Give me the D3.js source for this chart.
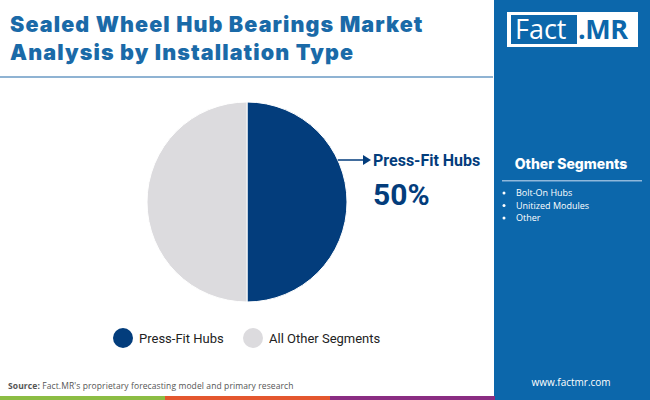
<!DOCTYPE html>
<html lang="en">
<head>
<meta charset="utf-8">
<title>Sealed Wheel Hub Bearings Market</title>
<script src="https://cdn.jsdelivr.net/npm/d3@7"></script>
<style>
  body { margin: 0; background: #fff; }
  svg { display: block; font-family: "Open Sans", "Noto Sans", sans-serif; }
</style>
</head>
<body>
<script>
// data
var segments = ["Press-Fit Hubs", "All Other Segments"];
var shares = [50, 50];
var segColors = ["#033d7c", "#dcdbde"];
var otherSegments = ["Bolt-On Hubs", "Unitized Modules", "Other"];
var titleLines = ["Sealed Wheel Hub Bearings Market", "Analysis by Installation Type"];
var stripColors = ["#8cbd44", "#e4572e", "#8a2d82"];

var W = 650, H = 400;
var svg = d3.select("body").append("svg").attr("width", W).attr("height", H);

// background
svg.append("rect").attr("width", W).attr("height", H).attr("fill", "#ffffff");

// title
svg.append("g").selectAll("text").data(titleLines).enter().append("text")
  .attr("x", 10)
  .attr("y", function(d, i){ return 32 + i * 28; })
  .attr("font-family", "Inter, sans-serif")
  .attr("font-size", 21.5)
  .attr("font-weight", 900)
  .attr("fill", "#1a6aa8")
  .attr("letter-spacing", "1.1")
  .text(function(d){ return d; });

// separator under title
svg.append("rect").attr("x", 0).attr("y", 76).attr("width", 493).attr("height", 2).attr("fill", "#8fb3d3");

// right panel
svg.append("rect").attr("x", 494).attr("y", 0).attr("width", W - 494).attr("height", H).attr("fill", "#0c67ab");

// logo
var logo = svg.append("g");
logo.append("rect").attr("x", 507).attr("y", 12).attr("width", 131).attr("height", 35).attr("fill", "#ffffff");
logo.append("rect").attr("x", 511).attr("y", 15).attr("width", 66).attr("height", 29).attr("fill", "#0c67ab");
logo.append("text").attr("x", 515).attr("y", 39).attr("font-family", "'Open Sans', sans-serif")
  .attr("font-size", 27).attr("fill", "#ffffff").text("Fact");
logo.append("text").attr("x", 578).attr("y", 39).attr("font-family", "'Open Sans', sans-serif")
  .attr("font-size", 27).attr("font-weight", 700).attr("letter-spacing", "-0.5")
  .attr("fill", "#0c67ab").text(".MR");

// other segments panel
svg.append("text").attr("x", 571).attr("y", 169).attr("text-anchor", "middle")
  .attr("font-family", "Inter, sans-serif")
  .attr("font-size", 14).attr("font-weight", 800).attr("fill", "#ffffff").text("Other Segments");
svg.append("rect").attr("x", 502).attr("y", 180).attr("width", 140).attr("height", 1.5).attr("fill", "#8fb8dc");
var list = svg.append("g").selectAll("g").data(otherSegments).enter().append("g")
  .attr("transform", function(d, i){ return "translate(0," + (196 + i * 12.5) + ")"; });
list.append("circle").attr("cx", 504).attr("cy", -3).attr("r", 1.5).attr("fill", "#ffffff");
list.append("text").attr("x", 516).attr("y", 0).attr("font-size", 9).attr("fill", "#ffffff")
  .text(function(d){ return d; });

// website
svg.append("text").attr("x", 571).attr("y", 386).attr("text-anchor", "middle")
  .attr("font-size", 10).attr("fill", "#ffffff").text("www.factmr.com");

// pie
var cx = 247, cy = 202, R = 100;
var pie = d3.pie().sort(null).value(function(d){ return d; });
var arc = d3.arc().innerRadius(0).outerRadius(R);
var slices = svg.append("g").attr("transform", "translate(" + cx + "," + cy + ")");
slices.selectAll("path").data(pie(shares)).enter().append("path")
  .attr("d", arc)
  .attr("fill", function(d, i){ return segColors[i]; })
  .attr("stroke", "#ffffff").attr("stroke-width", 1);

// callout
var ang = Math.asin((160 - cy) / R);
var ax = cx + R * Math.cos(ang);
svg.append("line").attr("x1", ax).attr("y1", 160).attr("x2", 364).attr("y2", 160)
  .attr("stroke", "#033d7c").attr("stroke-width", 1.5);
svg.append("path").attr("d", "M 363 155 L 371 160 L 363 165 Z").attr("fill", "#033d7c");
svg.append("text").attr("x", 373).attr("y", 166).attr("font-family", "Roboto, sans-serif")
  .attr("font-size", 16).attr("font-weight", 700).attr("fill", "#033d7c").text(segments[0]);
svg.append("text").attr("x", 373).attr("y", 205).attr("font-family", "Roboto, sans-serif")
  .attr("font-size", 30).attr("font-weight", 700).attr("fill", "#033d7c").text(shares[0] + "%");

// legend
var legX = [123, 253];
var leg = svg.append("g").selectAll("g").data(segments).enter().append("g")
  .attr("transform", function(d, i){ return "translate(" + legX[i] + ",338)"; });
leg.append("circle").attr("r", 10).attr("fill", function(d, i){ return segColors[i]; });
leg.append("text").attr("x", 16).attr("y", 5).attr("font-family", "Roboto, sans-serif")
  .attr("font-size", 13).attr("fill", "#222222").text(function(d){ return d; });

// source
var src = svg.append("text").attr("x", 8).attr("y", 389).attr("font-size", 8.5).attr("fill", "#555555")
  .attr("letter-spacing", "0.1");
src.append("tspan").attr("font-weight", 700).text("Source:");
src.append("tspan").text(" Fact.MR's proprietary forecasting model and primary research");

// bottom colour strip
svg.append("g").selectAll("rect").data(stripColors).enter().append("rect")
  .attr("x", function(d, i){ return i * 165; }).attr("y", 396)
  .attr("width", 165).attr("height", 4).attr("fill", function(d){ return d; });
</script>
</body>
</html>
